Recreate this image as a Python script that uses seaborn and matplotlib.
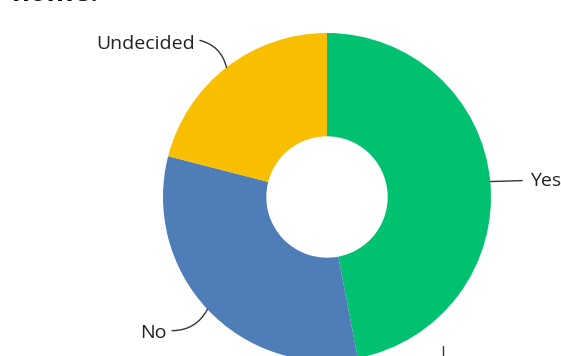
import numpy as np
import matplotlib
matplotlib.use("Agg")
import matplotlib.pyplot as plt
from matplotlib.lines import Line2D
import seaborn as sns

categories = ["Yes", "No", "Undecided"]
shares = [47, 32, 21]
colors = ["#00C170", "#4F7DB8", "#F8BE00"]
title_tail = "home."

sns.set_theme(style="white")
plt.rcParams["font.family"] = ["Open Sans", "DejaVu Sans"]
palette = sns.color_palette(colors)

W, H = 561, 356
fig = plt.figure(figsize=(W / 100, H / 100), dpi=100)
fig.patch.set_facecolor("white")

# donut centre and radius in pixels
cx, cy, R = 327, 197, 164
ax = fig.add_axes([(cx - R) / W, (H - cy - R) / H, 2 * R / W, 2 * R / H])

wedges, _ = ax.pie(shares, colors=palette, startangle=90, counterclock=False,
                   radius=1, wedgeprops=dict(width=0.63, linewidth=0),
                   frame=True)
ax.set_xlim(-1, 1)
ax.set_ylim(-1, 1)
ax.set_aspect("equal")
ax.axis("off")

# label positions (text anchor, leader start) per category
label_pos = {
    "Yes": dict(xy=(1.24, 0.095), ha="left", lead=(1.19, 0.10), rad=0.0),
    "Undecided": dict(xy=(-0.805, 0.93), ha="right", lead=(-0.775, 0.955), rad=-0.3),
    "No": dict(xy=(-0.98, -0.83), ha="right", lead=(-0.945, -0.815), rad=0.3),
}
for w, cat in zip(wedges, categories):
    mid = np.deg2rad((w.theta1 + w.theta2) / 2)
    ex, ey = np.cos(mid), np.sin(mid)
    p = label_pos[cat]
    ax.annotate("", xy=(ex, ey), xytext=p["lead"],
                arrowprops=dict(arrowstyle="-", color="#333333", lw=1.0,
                                shrinkA=0, shrinkB=0,
                                connectionstyle=f"arc3,rad={p['rad']}"),
                annotation_clip=False)
    ax.text(p["xy"][0], p["xy"][1], cat, ha=p["ha"], va="center",
            fontsize=14, color="#222222", clip_on=False)

# leader of a further label below the chart
fig.add_artist(Line2D([443 / W, 443 / W], [0, 10 / H], color="#333333", lw=1.0))

fig.text(12 / W, 1 - 1 / H, title_tail, ha="left", va="baseline",
         fontsize=20, fontweight="bold", color="#111111")

fig.savefig("out.png", dpi=100, facecolor="white")
